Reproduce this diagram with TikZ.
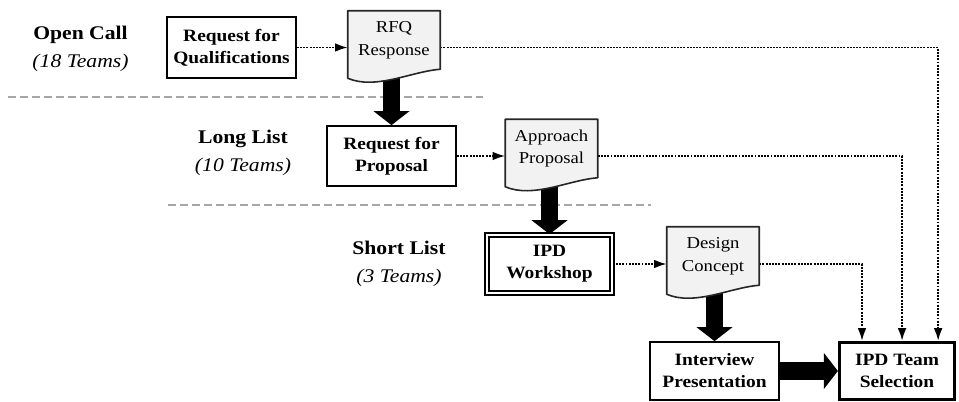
\documentclass[tikz,border=0pt]{standalone}
\usepackage{fontspec}
\setmainfont{Liberation Serif}[FakeStretch=1.12]
\usetikzlibrary{arrows.meta,calc}
\definecolor{docgray}{HTML}{F2F2F2}
\definecolor{sepgray}{HTML}{A6A6A6}
\pgfdeclarelayer{bg}
\pgfsetlayers{bg,main}
\begin{document}
\begin{tikzpicture}[x=0.75pt,y=-0.75pt,
  box/.style={draw=black, line width=1.3pt, fill=white, inner sep=0pt, align=center, font=\fontsize{13}{16.5}\selectfont\bfseries},
  docnode/.style={inner sep=0pt, minimum width=69pt, minimum height=43.5pt, align=center, font=\fontsize{12.5}{17}\selectfont},
  docshape/.style={draw=black!85, line width=1.2pt, fill=docgray, line join=round},
  lbl/.style={align=center, font=\fontsize{14.5}{21}\selectfont},
  sepline/.style={draw=sepgray, line width=2pt, dash pattern=on 6pt off 3pt},
  dotarrow/.style={line width=1.4pt, dash pattern=on 1.4pt off 1pt, -{Latex[length=9.5pt,width=6.5pt]}},
  bigarrow/.style={line width=13pt, -{Triangle[width=27pt,length=10.5pt,line width=0pt]}}
]
\useasboundingbox (0,0) rectangle (959,402);

% stage labels
\node[lbl] (oc) at (80.5,48.5) {\textbf{Open Call}\\\textit{(18 Teams)}};
\node[lbl] (ll) at (243,152.5) {\textbf{Long List}\\\textit{(10 Teams)}};
\node[lbl] (sl) at (399,264) {\textbf{Short List}\\\textit{(3 Teams)}};

% boxes and documents
\node[box, minimum width=96.75pt, minimum height=45.75pt] (rfqbox) at (231.5,47.5) {Request for\\Qualifications};
\node[docnode] (rfqdoc) at (394,40) {RFQ\\Response};
\node[box, minimum width=96.75pt, minimum height=45pt] (rfpbox) at (391.5,156) {Request for\\Proposal};
\node[docnode] (apdoc) at (551.5,148.5) {Approach\\Proposal};
\node[box, double, double distance=2pt, line width=1.2pt, minimum width=93.75pt, minimum height=43.5pt] (ipdw) at (549.5,264) {IPD\\Workshop};
\node[docnode] (dcdoc) at (713,256) {Design\\Concept};
\node[box, minimum width=96.75pt, minimum height=43.5pt] (intbox) at (714.5,371) {Interview\\Presentation};
\node[box, line width=2.4pt, minimum width=86.25pt, minimum height=42.75pt] (selbox) at (897,371) {IPD Team\\Selection};

\begin{pgfonlayer}{bg}
% separators
\draw[sepline] (8,97) -- (483,97);
\draw[sepline] (168,205) -- (651,205);
% dotted connectors
\draw[dotarrow] (rfqbox.east) -- (rfqdoc.west |- rfqbox.east);
\draw[dotarrow] (rfpbox.east) -- (apdoc.west |- rfpbox.east);
\draw[dotarrow] (ipdw.east) -- (dcdoc.west |- ipdw.east);
\draw[dotarrow] (rfqbox.east -| rfqdoc.east) -| ($(selbox.north west)!0.848!(selbox.north east)$);
\draw[dotarrow] (rfpbox.east -| apdoc.east) -| ($(selbox.north west)!0.543!(selbox.north east)$);
\draw[dotarrow] (ipdw.east -| dcdoc.east) -| ($(selbox.north west)!0.204!(selbox.north east)$);
% big arrows
\draw[bigarrow] (rfqdoc.south -| rfpbox.north) -- (rfpbox.north);
\draw[bigarrow] (apdoc.south -| ipdw.north) -- (ipdw.north);
\draw[bigarrow] (dcdoc.south -| intbox.north) -- (intbox.north);
\draw[bigarrow] (intbox.east) -- (selbox.west);
% document shapes
\path[docshape] (rfqdoc.north west) -- (rfqdoc.north east) -- (rfqdoc.south east)
  .. controls +(-28,2) and +(28,12) .. ($(rfqdoc.south west)+(0,9)$) -- cycle;
\path[docshape] (apdoc.north west) -- (apdoc.north east) -- (apdoc.south east)
  .. controls +(-28,2) and +(28,12) .. ($(apdoc.south west)+(0,9)$) -- cycle;
\path[docshape] (dcdoc.north west) -- (dcdoc.north east) -- (dcdoc.south east)
  .. controls +(-28,2) and +(28,12) .. ($(dcdoc.south west)+(0,9)$) -- cycle;
\end{pgfonlayer}
\end{tikzpicture}
\end{document}
